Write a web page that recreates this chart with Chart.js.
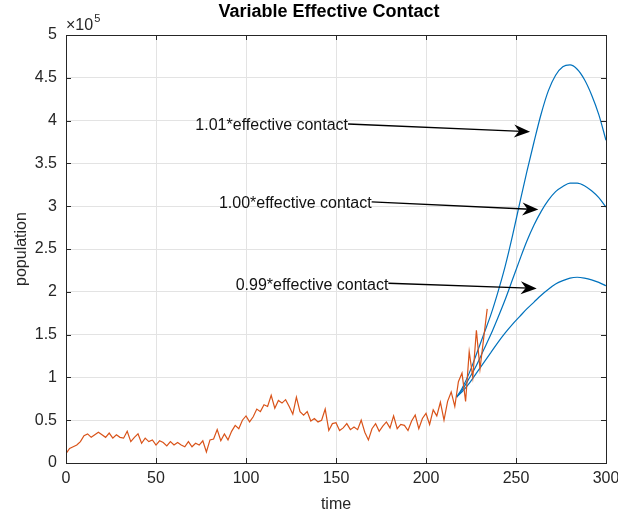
<!DOCTYPE html>
<html>
<head>
<meta charset="utf-8">
<script src="https://cdn.jsdelivr.net/npm/chart.js@4.4.1/dist/chart.umd.min.js"></script>
<style>
  html, body { margin: 0; padding: 0; background: #fff; }
  canvas { display: block; }
</style>
</head>
<body>
<canvas id="chart" width="618" height="516"></canvas>
<script>
// DATA
const observedCases = [
    11000, 17000, 19000, 21000, 25000, 32000, 34000, 30000, 33000, 36000,
    33000, 30000, 35000, 29000, 33000, 30000, 29000, 37000, 25000, 30000,
    34000, 23000, 29000, 25000, 27000, 21000, 26000, 24000, 20000, 25000,
    21000, 24000, 21000, 19000, 25000, 19000, 23000, 21000, 26000, 13000,
    27000, 28000, 39000, 26000, 34000, 27000, 37000, 44000, 40000, 50000,
    55000, 48000, 54000, 63000, 60000, 68000, 66000, 79000, 64000, 73000,
    70000, 74000, 66000, 57000, 77000, 60000, 56000, 60000, 49000, 52000,
    48000, 50000, 63000, 38000, 46000, 47000, 38000, 41000, 46000, 39000,
    42000, 39000, 50000, 36000, 27000, 40000, 46000, 37000, 43000, 48000,
    41000, 55000, 40000, 45000, 44000, 38000, 49000, 56000, 40000, 52000,
    58000, 45000, 62000, 55000, 71000, 50000, 72000, 83000, 66000, 95000,
    105000, 72000, 130000, 100000, 155000, 110000, 145000, 180000
];
const observedDays = observedCases.map((_, i) => i * 2);

const modelDays = [217, 220, 224, 228, 232, 236, 240, 244, 248, 252, 256,
                   260, 264, 268, 272, 276, 280, 284, 288, 292, 296, 300];
const contact101 = [77000, 87000, 105000, 127000, 150000, 173000, 200000, 230000, 265000, 303000, 340000,
                    375000, 408000, 435000, 453000, 463000, 465000, 460000, 448000, 430000, 407000, 377000];
const contact100 = [77000, 85000, 99000, 114000, 132000, 150000, 170000, 191000, 214000, 237000, 259000,
                    278000, 294000, 307000, 317000, 323000, 327000, 327000, 324000, 318000, 310000, 299000];
const contact099 = [77000, 83000, 93000, 105000, 117000, 129000, 141000, 152000, 162000, 171000, 180000,
                    188000, 196000, 203000, 209000, 213000, 216000, 217000, 216000, 214000, 211000, 207000];

const xTicks = [0, 50, 100, 150, 200, 250, 300];
const yTicks = [0, 0.5, 1, 1.5, 2, 2.5, 3, 3.5, 4, 4.5, 5];

// text arrows: label, tail (day, population), head (day, population)
const arrows = [
    { label: '1.01*effective contact', from: [156.7, 396000], to: [257.8, 387000] },
    { label: '1.00*effective contact', from: [169.8, 305000], to: [262.4, 296000] },
    { label: '0.99*effective contact', from: [179.1, 210000], to: [261.5, 204000] }
];

const AXIS = '#262626';
const FONT = '"Liberation Sans", Arial, sans-serif';

function pts(xs, ys) {
    return ys.map((y, i) => ({ x: xs[i], y: y }));
}

// draws the MATLAB style box, ticks, labels and text arrows
const decorations = {
    id: 'decorations',
    afterDatasetsDraw(c) {
        const ctx = c.ctx;
        const a = c.chartArea;
        const sx = c.scales.x, sy = c.scales.y;
        ctx.save();

        // arrows
        arrows.forEach(ar => {
            const x1 = sx.getPixelForValue(ar.from[0]), y1 = sy.getPixelForValue(ar.from[1]);
            const x2 = sx.getPixelForValue(ar.to[0]), y2 = sy.getPixelForValue(ar.to[1]);
            const ang = Math.atan2(y2 - y1, x2 - x1);
            ctx.strokeStyle = '#000';
            ctx.fillStyle = '#000';
            ctx.lineWidth = 1.3;
            ctx.beginPath();
            ctx.moveTo(x1, y1);
            ctx.lineTo(x2 - 8 * Math.cos(ang), y2 - 8 * Math.sin(ang));
            ctx.stroke();
            ctx.translate(x2, y2);
            ctx.rotate(ang);
            ctx.beginPath();
            ctx.moveTo(0, 0);
            ctx.lineTo(-16, -6.5);
            ctx.lineTo(-11, 0);
            ctx.lineTo(-16, 6.5);
            ctx.closePath();
            ctx.fill();
            ctx.setTransform(1, 0, 0, 1, 0, 0);

            ctx.font = '16px ' + FONT;
            ctx.fillStyle = '#111';
            ctx.textAlign = 'right';
            ctx.textBaseline = 'middle';
            ctx.fillText(ar.label, x1, y1 + 2);
        });

        // box
        ctx.strokeStyle = AXIS;
        ctx.lineWidth = 1;
        ctx.strokeRect(Math.round(a.left) + 0.5, Math.round(a.top) + 0.5,
                       Math.round(a.right - a.left), Math.round(a.bottom - a.top));

        // inward ticks on all four sides
        ctx.beginPath();
        xTicks.forEach(v => {
            const px = Math.round(sx.getPixelForValue(v)) + 0.5;
            ctx.moveTo(px, a.bottom); ctx.lineTo(px, a.bottom - 5);
            ctx.moveTo(px, a.top); ctx.lineTo(px, a.top + 5);
        });
        yTicks.forEach(v => {
            const py = Math.round(sy.getPixelForValue(v * 1e5)) + 0.5;
            ctx.moveTo(a.left, py); ctx.lineTo(a.left + 5, py);
            ctx.moveTo(a.right, py); ctx.lineTo(a.right - 5, py);
        });
        ctx.stroke();

        // title
        ctx.fillStyle = '#000';
        ctx.font = 'bold 18px ' + FONT;
        ctx.textAlign = 'center';
        ctx.textBaseline = 'middle';
        ctx.fillText('Variable Effective Contact', 329, 12);

        // axis titles
        ctx.fillStyle = AXIS;
        ctx.font = '16px ' + FONT;
        ctx.fillText('time', (a.left + a.right) / 2, 505);
        ctx.save();
        ctx.translate(22, (a.top + a.bottom) / 2);
        ctx.rotate(-Math.PI / 2);
        ctx.fillText('population', 0, 0);
        ctx.restore();

        // exponent label
        ctx.textAlign = 'left';
        ctx.textBaseline = 'alphabetic';
        ctx.font = '16px ' + FONT;
        ctx.fillText('\u00d710', a.left, 30);
        const w = ctx.measureText('\u00d710').width;
        ctx.font = '11px ' + FONT;
        ctx.fillText('5', a.left + w + 1, 22);

        ctx.restore();
    }
};

new Chart(document.getElementById('chart').getContext('2d'), {
    type: 'line',
    data: {
        datasets: [
            {
                label: 'observed',
                data: pts(observedDays, observedCases),
                borderColor: '#D95319',
                borderWidth: 1.2,
                pointRadius: 0,
                tension: 0,
                order: 0
            },
            {
                label: '1.01',
                data: pts(modelDays, contact101),
                borderColor: '#0072BD',
                borderWidth: 1.2,
                pointRadius: 0,
                cubicInterpolationMode: 'monotone',
                order: 1
            },
            {
                label: '1.00',
                data: pts(modelDays, contact100),
                borderColor: '#0072BD',
                borderWidth: 1.2,
                pointRadius: 0,
                cubicInterpolationMode: 'monotone',
                order: 1
            },
            {
                label: '0.99',
                data: pts(modelDays, contact099),
                borderColor: '#0072BD',
                borderWidth: 1.2,
                pointRadius: 0,
                cubicInterpolationMode: 'monotone',
                order: 1
            }
        ]
    },
    options: {
        responsive: false,
        maintainAspectRatio: false,
        animation: false,
        devicePixelRatio: 1,
        layout: { padding: { top: 35, right: 12, bottom: 0, left: 0 } },
        plugins: {
            legend: { display: false },
            tooltip: { enabled: false }
        },
        scales: {
            x: {
                type: 'linear',
                min: 0,
                max: 300,
                afterBuildTicks: s => { s.ticks = xTicks.map(v => ({ value: v })); },
                afterFit: s => { s.height = 53; s.paddingLeft = 0; s.paddingRight = 0; },
                grid: { color: '#e3e3e3', drawTicks: false },
                border: { display: false },
                ticks: {
                    color: AXIS,
                    font: { family: FONT, size: 16 },
                    padding: 6,
                    maxRotation: 0,
                    callback: v => String(v)
                }
            },
            y: {
                type: 'linear',
                min: 0,
                max: 500000,
                afterBuildTicks: s => { s.ticks = yTicks.map(v => ({ value: v * 1e5 })); },
                afterFit: s => { s.width = 66; s.paddingTop = 0; s.paddingBottom = 0; },
                grid: { color: '#e3e3e3', drawTicks: false },
                border: { display: false },
                ticks: {
                    color: AXIS,
                    font: { family: FONT, size: 16 },
                    padding: 9,
                    callback: v => String(v / 1e5)
                }
            }
        }
    },
    plugins: [decorations]
});
</script>
</body>
</html>
